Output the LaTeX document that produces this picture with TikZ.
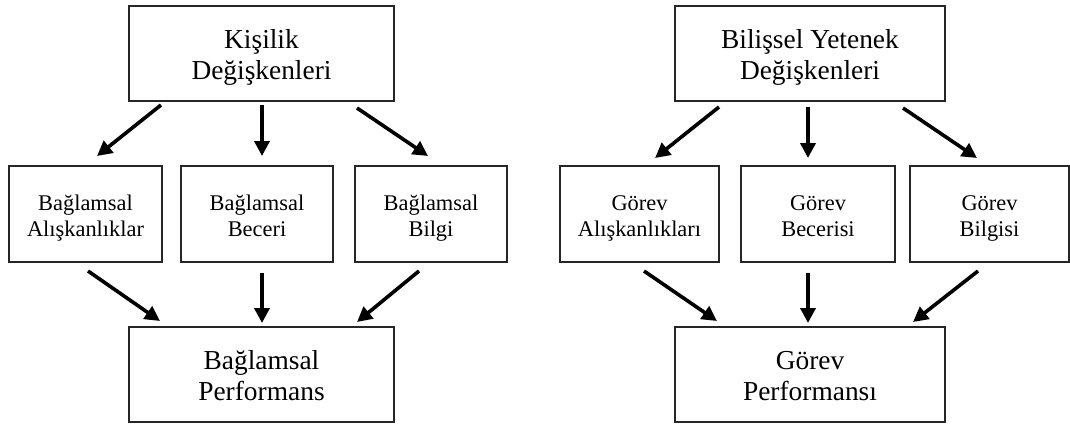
\documentclass[tikz,border=0pt]{standalone}
\usepackage{fontspec}
\setmainfont{Liberation Serif}
\usetikzlibrary{arrows.meta,calc}
% invisible struts: fixed height for the first line, fixed depth for the last
\newcommand\bigtop{\rule{0pt}{27pt}}
\newcommand\bigbot{\rule[-7pt]{0pt}{7pt}}
\newcommand\smalltop{\rule{0pt}{24pt}}
\newcommand\smallbot{\rule[-6pt]{0pt}{6pt}}
\begin{document}
\begin{tikzpicture}[x=1pt,y=-1pt,
  box/.style={draw=black!85,line width=2pt,align=center,inner sep=0pt},
  bigbox/.style={box,font=\fontsize{27.4}{31}\selectfont},
  smallbox/.style={box,font=\fontsize{22.4}{26}\selectfont},
  link/.style={line width=3.6pt,-{Triangle[length=15pt,width=15pt]}}]
\useasboundingbox (0,0) rectangle (1070,423);

% left branch: contextual performance
\node[bigbox,minimum width=265pt,minimum height=95pt] (kv) at (261.5,53.5) {\bigtop Kişilik\\Değişkenleri\bigbot};
\node[smallbox,minimum width=153pt,minimum height=96pt] (ba) at (85.5,214) {\smalltop Bağlamsal\\Alışkanlıklar\smallbot};
\node[smallbox,minimum width=152pt,minimum height=96pt] (bb) at (257,214) {\smalltop Bağlamsal\\Beceri\smallbot};
\node[smallbox,minimum width=152pt,minimum height=96pt] (bi) at (431,214) {\smalltop Bağlamsal\\Bilgi\smallbot};
\node[bigbox,minimum width=265pt,minimum height=95pt] (bp) at (261.5,374.5) {\bigtop Bağlamsal\\Performans\bigbot};

% right branch: task performance
\node[bigbox,minimum width=270pt,minimum height=95pt] (yv) at (810,53.5) {\bigtop Bilişsel Yetenek\\Değişkenleri\bigbot};
\node[smallbox,minimum width=159pt,minimum height=96pt] (ga) at (639.5,214) {\smalltop Görev\\Alışkanlıkları\smallbot};
\node[smallbox,minimum width=154pt,minimum height=96pt] (gb) at (818,214) {\smalltop Görev\\Becerisi\smallbot};
\node[smallbox,minimum width=159pt,minimum height=96pt] (gi) at (989.5,214) {\smalltop Görev\\Bilgisi\smallbot};
\node[bigbox,minimum width=270pt,minimum height=95pt] (gp) at (810,374.5) {\bigtop Görev\\Performansı\bigbot};

% arrows, left
\draw[link] ($(kv.south)+(-100.5,3)$) -- ($(ba.north)+(11.5,-9)$);
\draw[link] ($(kv.south)+(0.5,3)$) -- ($(bb.north)+(5,-9)$);
\draw[link] ($(kv.south)+(95.5,6)$) -- ($(bi.north)+(-3,-9)$);
\draw[link] ($(ba.south)+(2.5,8)$) -- ($(bp.north)+(-101.5,-5)$);
\draw[link] ($(bb.south)+(5,10)$) -- ($(bp.north)+(0.5,-3)$);
\draw[link] ($(bi.south)+(-12,8)$) -- ($(bp.north)+(95.5,-4)$);

% arrows, right
\draw[link] ($(yv.south)+(-91,5)$) -- ($(ga.north)+(15.5,-7)$);
\draw[link] ($(yv.south)+(-2,5)$) -- ($(gb.north)+(-10,-7)$);
\draw[link] ($(yv.south)+(93,6)$) -- ($(gi.north)+(-12.5,-7)$);
\draw[link] ($(ga.south)+(4.5,8)$) -- ($(gp.north)+(-93,-5)$);
\draw[link] ($(gb.south)+(-10,10)$) -- ($(gp.north)+(-2,-3)$);
\draw[link] ($(gi.south)+(-11.5,8)$) -- ($(gp.north)+(103,-4)$);
\end{tikzpicture}
\end{document}
